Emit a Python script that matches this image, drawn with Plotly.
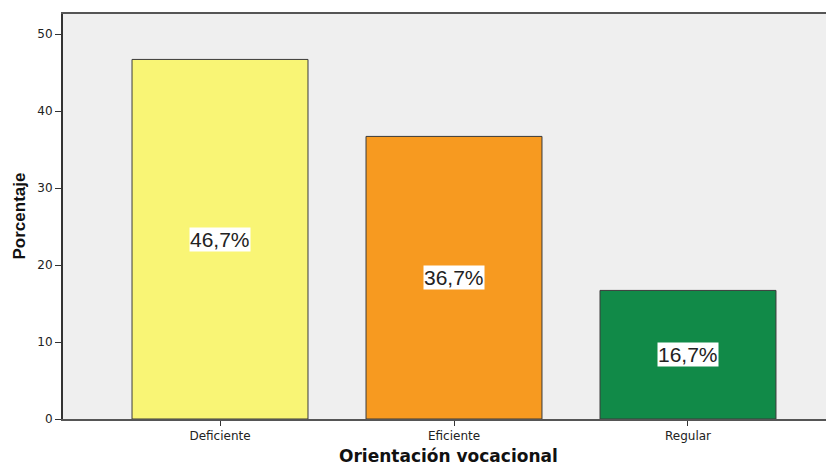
import plotly.graph_objects as go

categories = ["Deficiente", "Eficiente", "Regular"]
values = [46.7, 36.7, 16.7]
labels = ["46,7%", "36,7%", "16,7%"]
colors = ["#F9F575", "#F79A20", "#118A48"]

fig = go.Figure()
fig.add_trace(go.Bar(
    x=[0, 1, 2], y=values, width=0.752,
    marker=dict(color=colors, line=dict(color="#3a3a3a", width=1)),
    hoverinfo="skip",
))
for i, (v, lab) in enumerate(zip(values, labels)):
    fig.add_annotation(x=i, y=v / 2, text=lab, showarrow=False,
                       bgcolor="white", borderpad=0,
                       font=dict(family="Liberation Sans, Arial", size=21, color="#222"))

fig.add_annotation(xref="paper", yref="paper", x=0.5, y=0, yshift=-37,
                   xanchor="center", yanchor="middle", showarrow=False,
                   text="<b>Orientación vocacional</b>",
                   font=dict(family="DejaVu Sans", size=17, color="#111"))
fig.add_annotation(xref="paper", yref="paper", x=0, y=0.5, xshift=-44,
                   xanchor="center", yanchor="middle", showarrow=False, textangle=-90,
                   text="<b>Porcentaje</b>",
                   font=dict(family="Liberation Sans, Arial", size=17, color="#111"))

# page body has an 8px margin, so the figure is sized to end at the window edge
fig.update_layout(
    width=826, height=458,
    margin=dict(l=55, r=0, t=6, b=47),
    paper_bgcolor="white", plot_bgcolor="#EFEFEF",
    showlegend=False,
    font=dict(family="DejaVu Sans", size=12, color="#222"),
    xaxis=dict(range=[-0.671, 2.624], tickvals=[0, 1, 2], ticktext=categories,
               ticks="outside", ticklen=5, tickcolor="#333", showgrid=False,
               showline=True, linecolor="#555", linewidth=2, mirror=True,
               zeroline=False, automargin=False),
    yaxis=dict(range=[0, 52.6], tickvals=[0, 10, 20, 30, 40, 50],
               ticks="outside", ticklen=6, tickcolor="#333", showgrid=False,
               showline=True, linecolor="#333", linewidth=2, zeroline=False,
               automargin=False),
)
fig.write_html("out.html")
